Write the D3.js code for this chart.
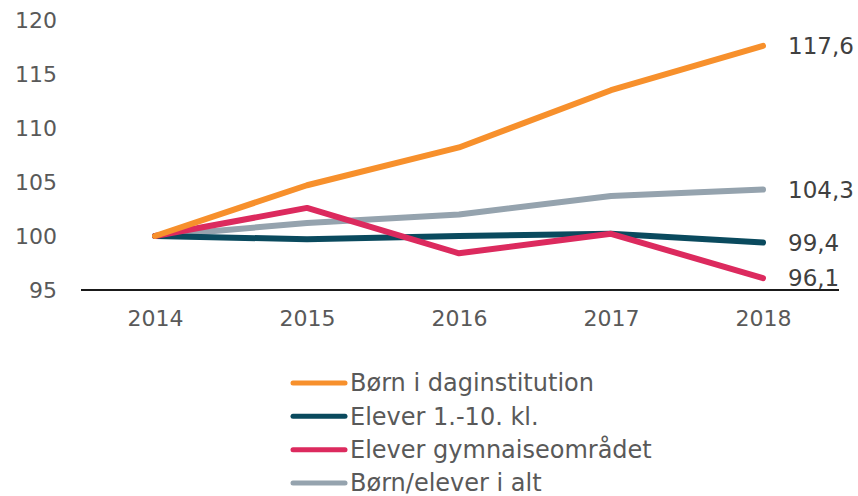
<!DOCTYPE html>
<html>
<head>
<meta charset="utf-8">
<style>
    body { margin: 0; background: #fff; }
    svg text { font-family: Verdana, 'DejaVu Sans', sans-serif; }
    .y .tick text, .x .tick text { font-size: 22px; fill: #595959; font-family: Verdana, 'DejaVu Sans', sans-serif; }
    .y .domain, .y .tick line, .x .tick line { display: none; }
    .x .domain { stroke: #1a1a1a; stroke-width: 2; }
    .value { font-size: 23px; fill: #404040; }
    .legend text { font-size: 24px; fill: #595959; }
</style>
</head>
<body>
<svg width="858" height="496"></svg>
<script src="https://d3js.org/d3.v7.min.js"></script>
<script>
    let years = [2014, 2015, 2016, 2017, 2018]
    let seriesNames = ["Børn i daginstitution", "Elever 1.-10. kl.", "Elever gymnaiseområdet", "Børn/elever i alt"]
    let dagins = [100, 104.7, 108.2, 113.5, 117.6]
    let elever = [100, 99.7, 100.0, 100.2, 99.4]
    let gymn = [100, 102.6, 98.4, 100.2, 96.1]
    let iAlt = [100, 101.2, 102.0, 103.7, 104.3]
    let endLabels = ["117,6", "99,4", "96,1", "104,3"]
    let yTicks = [95, 100, 105, 110, 115, 120]
    let colors = ["#F7902C", "#0A4A5E", "#DC2A5E", "#95A3AE"]

    let allSeries = [dagins, elever, gymn, iAlt]
    // draw order: grey under the rest
    let drawOrder = [3, 1, 2, 0]

    let svg = d3.select("svg")

    let x = d3.scalePoint()
        .domain(years)
        .range([155, 763])

    let y = d3.scaleLinear()
        .domain([95, 120])
        .range([290, 20])

    svg.append("g")
        .attr("class", "y axis")
        .attr("transform", "translate(57,0)")
        .call(d3.axisLeft(y).tickValues(yTicks).tickSize(0).tickPadding(0))

    let xAxis = svg.append("g")
        .attr("class", "x axis")
        .attr("transform", "translate(0,290)")
        .call(d3.axisBottom(x).tickSize(0).tickPadding(20).tickSizeOuter(0))
    xAxis.select(".domain").attr("d", "M81,0H839")

    let line = d3.line()
        .x((d, i) => x(years[i]))
        .y(d => y(d))

    svg.append("g")
        .selectAll("path")
        .data(drawOrder)
        .join("path")
        .attr("d", i => line(allSeries[i]))
        .attr("fill", "none")
        .attr("stroke", i => colors[i])
        .attr("stroke-width", 6)
        .attr("stroke-linecap", "round")
        .attr("stroke-linejoin", "round")

    svg.append("g")
        .selectAll("text")
        .data([0, 1, 2, 3])
        .join("text")
        .attr("class", "value")
        .attr("x", 788)
        .attr("y", i => y(allSeries[i][4]))
        .attr("dy", "0.35em")
        .text(i => endLabels[i])

    let legend = svg.append("g").attr("class", "legend")
    let ly = d3.scaleLinear().domain([0, 3]).range([383, 483])
    seriesNames.forEach((name, i) => {
        legend.append("line")
            .attr("x1", 293).attr("x2", 345)
            .attr("y1", ly(i)).attr("y2", ly(i))
            .attr("stroke", colors[i])
            .attr("stroke-width", 5)
            .attr("stroke-linecap", "round")
        legend.append("text")
            .attr("x", 350)
            .attr("y", ly(i))
            .attr("dy", "0.35em")
            .text(name)
    })
</script>
</body>
</html>
